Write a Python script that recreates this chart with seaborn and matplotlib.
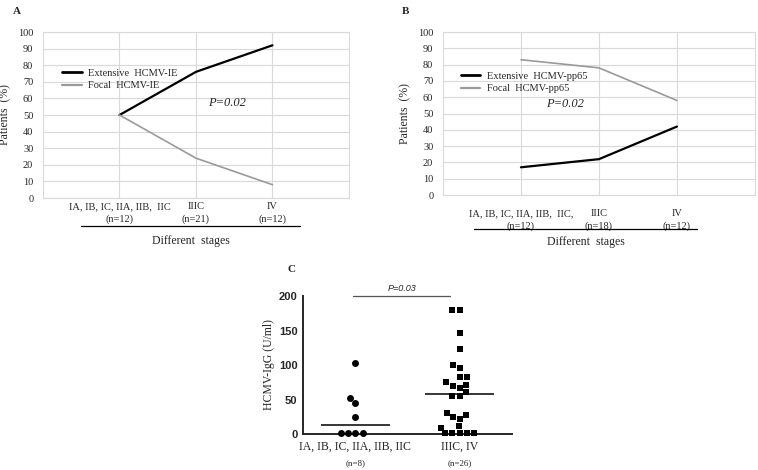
import numpy as np
import pandas as pd
import matplotlib.pyplot as plt
import seaborn as sns

# Panel A - HCMV-IE staining by stage
stages_a = ['IA, IB, IC, IIA, IIB,  IIC\n(n=12)', 'IIIC\n(n=21)', 'IV\n(n=12)']
extensive_ie = [50, 76, 92]
focal_ie = [50, 24, 8]

# Panel B - HCMV-pp65 staining by stage
stages_b = ['IA, IB, IC, IIA, IIB,  IIC,\n(n=12)', 'IIIC\n(n=18)', 'IV\n(n=12)']
extensive_pp65 = [17, 22, 42]
focal_pp65 = [83, 78, 58]

# Panel C - HCMV-IgG levels
groups_c = ['IA, IB, IC, IIA, IIB, IIC', 'IIIC, IV']
n_c = ['(n=8)', '(n=26)']
igg_early = [103, 52, 45, 24, 1, 1, 1, 1]
igg_late = [180, 180, 147, 123, 100, 95, 82, 82, 75, 71, 70, 67, 61, 55, 55,
            31, 28, 25, 22, 11, 9, 1, 1, 1, 1, 1]

sns.set_style('white')
plt.rcParams['font.family'] = ['Liberation Serif', 'DejaVu Serif']

fig = plt.figure(figsize=(7.58, 4.70), dpi=100)
grid_col = '#d9d9d9'


def stage_panel(rect, stages, ext, foc, names, ptxt_xy, leg_anchor, tick_pad, line_y, label_y, ulx):
    ax = fig.add_axes(rect)
    df = pd.DataFrame({'stage': stages * 2,
                       'pct': ext + foc,
                       'kind': [names[0]] * len(ext) + [names[1]] * len(foc)})
    sns.lineplot(data=df, x='stage', y='pct', hue='kind', sort=False,
                 palette=['black', '#9a9a9a'], ax=ax)
    for ln, lw in zip(ax.lines, [1.6, 1.2]):
        ln.set_linewidth(lw)
    ax.set_xlim(-1, 3)
    ax.set_ylim(0, 100)
    ax.set_yticks(range(0, 101, 10))
    ax.grid(True, color=grid_col, lw=0.8)
    ax.set_axisbelow(True)
    for s in ax.spines.values():
        s.set_color(grid_col)
        s.set_linewidth(0.8)
    ax.tick_params(length=0, labelsize=7.5, pad=tick_pad)
    ax.tick_params(axis='y', pad=7)
    for t in ax.get_xticklabels():
        t.set_linespacing(1.45)
    ax.set_xlabel('')
    ax.set_ylabel('Patients  (%)', fontsize=8.5, labelpad=5)
    leg = ax.legend(loc='upper left', bbox_to_anchor=leg_anchor, frameon=False,
                    fontsize=7.5, handlelength=1.9, handletextpad=0.6,
                    borderpad=0, labelspacing=0.3)
    for h, lw in zip(leg.get_lines(), [2.0, 1.6]):
        h.set_linewidth(lw)
    ax.text(ptxt_xy[0], ptxt_xy[1], 'P=0.02', style='italic', fontsize=9,
            ha='center', va='center')
    ax.plot(ulx, [line_y, line_y], color='black', lw=0.9,
            transform=ax.transAxes, clip_on=False)
    ax.text(np.mean(ulx), label_y, 'Different  stages', fontsize=8.5,
            ha='center', va='center', transform=ax.transAxes)
    return ax


ax_a = stage_panel([0.0567, 0.5787, 0.4037, 0.3532], stages_a, extensive_ie, focal_ie,
                   ['Extensive  HCMV-IE', 'Focal  HCMV-IE'], (1.41, 57),
                   (0.045, 0.81), 3, -0.169, -0.26, [0.124, 0.84])
ax_b = stage_panel([0.5844, 0.5851, 0.4116, 0.3468], stages_b, extensive_pp65, focal_pp65,
                   ['Extensive  HCMV-pp65', 'Focal  HCMV-pp65'], (0.57, 56),
                   (0.04, 0.79), 10, -0.209, -0.29, [0.099, 0.814])

fig.text(0.017, 0.985, 'A', fontsize=8, fontweight='bold', va='top')
fig.text(0.530, 0.985, 'B', fontsize=8, fontweight='bold', va='top')
fig.text(0.379, 0.426, 'C', fontsize=8, fontweight='bold', va='center')

# Panel C
ax_c = fig.add_axes([0.3997, 0.0766, 0.2757, 0.2936])
df_early = pd.DataFrame({'group': groups_c[0], 'igg': igg_early})
df_late = pd.DataFrame({'group': groups_c[1], 'igg': igg_late})
sns.swarmplot(data=df_early, x='group', y='igg', order=groups_c, marker='o',
              color='black', size=5.0, ax=ax_c)
sns.swarmplot(data=df_late, x='group', y='igg', order=groups_c, marker='s',
              color='black', size=5.0, ax=ax_c)
for coll in ax_c.collections:
    coll.set_clip_on(False)
for i, vals in enumerate([igg_early, igg_late]):
    ax_c.hlines(np.median(vals), i - 0.33, i + 0.33, color='black', lw=1.1)
ax_c.set_xlim(-0.5, 1.5)
ax_c.set_ylim(0, 200)
ax_c.set_yticks([0, 50, 100, 150, 200])
ax_c.set_yticklabels(['0', '50', '100', '150', '200'], family='Liberation Sans',
                     fontweight='bold', fontsize=8)
sns.despine(ax=ax_c)
for s in ['left', 'bottom']:
    ax_c.spines[s].set_linewidth(1.4)
ax_c.tick_params(axis='y', length=3, width=1.2, pad=1)
ax_c.tick_params(axis='x', length=2, width=0.8, labelsize=8.5, pad=3)
ax_c.set_xlabel('')
ax_c.set_ylabel('HCMV-IgG (U/ml)', fontsize=8.5, labelpad=3)
trans = ax_c.get_xaxis_transform()
for i, n in enumerate(n_c):
    ax_c.text(i, -0.21, n, fontsize=6.5, ha='center', va='center', transform=trans)
ax_c.plot([-0.02, 0.91], [200, 200], color='#555555', lw=0.9, clip_on=False)
ax_c.text(0.45, 205, 'P=0.03', style='italic', fontsize=6.5, ha='center',
          va='bottom', family='Liberation Sans')

fig.savefig('out.png', dpi=100)
